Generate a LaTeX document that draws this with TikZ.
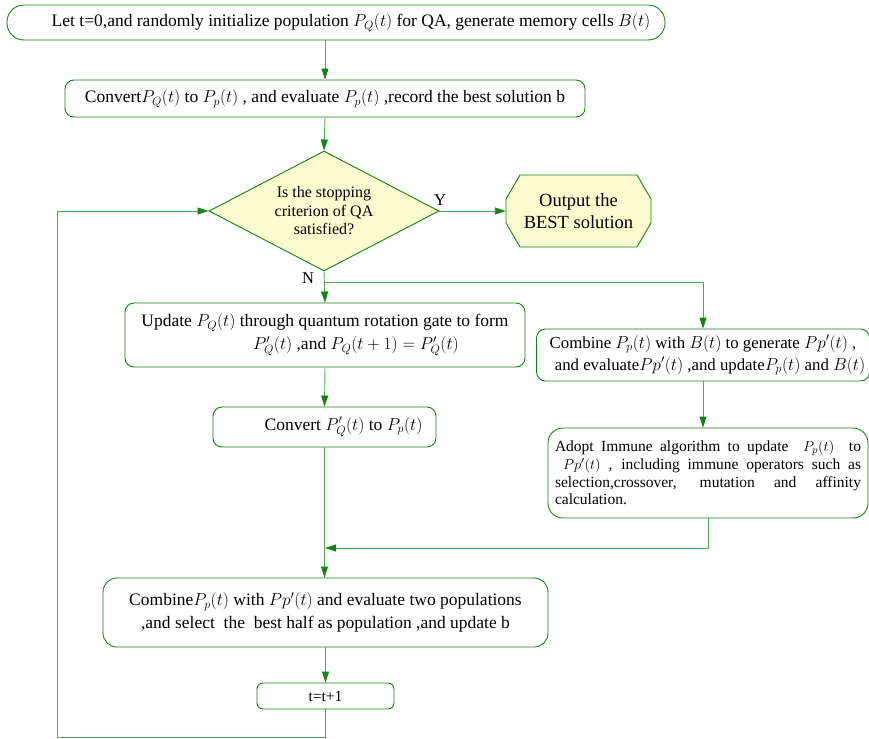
\documentclass[tikz,border=0pt]{standalone}
\usepackage{fontspec}
\setmainfont{Liberation Serif}
\usetikzlibrary{
  arrows.meta,
  shapes.geometric
}

\definecolor{flowgreen}{RGB}{20,130,20}
\definecolor{linegreen}{RGB}{80,170,80}
\definecolor{paleyellow}{RGB}{252,252,208}

\begin{document}
\begin{tikzpicture}[x=1pt,y=-1pt,
	box/.style={draw=flowgreen,line width=0.9pt,rounded corners=9pt,align=center,inner sep=2pt,font=\fontsize{17.5}{23}\selectfont},
	choice/.style={diamond,draw=flowgreen,fill=paleyellow,line width=0.9pt,aspect=1.92,inner sep=0pt,minimum width=230,minimum height=120,align=center,font=\fontsize{16}{18.5}\selectfont},
	octa/.style={draw=flowgreen,fill=paleyellow,line width=0.9pt},
	flow/.style={draw=linegreen,line width=0.9pt,-{Triangle[length=11pt,width=7pt,color=flowgreen]}},
	tag/.style={font=\fontsize{16.5}{18}\selectfont}
]
	\useasboundingbox (0,0) rectangle (869,738);
	% main column
	\node[box,rounded corners=17pt,minimum width=658,minimum height=35] (init) at (336,22.5) {\hspace*{30pt}Let t=0,and randomly initialize population $P_Q(t)$ for QA, generate memory cells $B(t)$};
	\node[box,minimum width=520,minimum height=37] (conv) at (325,98.5) {Convert$P_Q(t)$ to $P_p(t)$ , and evaluate $P_p(t)$ ,record the best solution b};
	\node[choice] (stop) at (324,211) {Is the stopping\\criterion of QA\\satisfied?};
	% octagon drawn first, text on top
	\draw[octa] (506,199) -- (520,175) -- (637,175) -- (651,199) -- (651,223) -- (637,247) -- (520,247) -- (506,223) -- cycle;
	\node[minimum width=145,minimum height=72,align=center,font=\fontsize{18.5}{21.5}\selectfont] (out) at (578.5,211) {Output the\\BEST solution};
	\node[box,minimum width=400,minimum height=64] (update) at (325,335) {Update $P_Q(t)$ through quantum rotation gate to form\\\hspace*{62pt}$P_Q'(t)$ ,and $P_Q(t+1)=P_Q'(t)$};
	\node[box,minimum width=223,minimum height=40] (convq) at (324.5,427) {\hspace*{38pt}Convert $P_Q'(t)$ to $P_p(t)$};
	% immune branch
	\node[box,minimum width=333,minimum height=52,font=\fontsize{16.8}{22}\selectfont] (memory) at (703,355) {Combine $P_p(t)$ with $B(t)$ to generate $Pp'(t)$ ,\\\hspace*{14pt}and evaluate$Pp'(t)$ ,and update$P_p(t)$ and $B(t)$};
	\node[box,rounded corners=15pt,minimum width=320,minimum height=90,text width=306pt,align=justify,font=\fontsize{15.5}{17.8}\selectfont] (immune) at (708,473) {Adopt Immune algorithm to update \ $P_p(t)$ \ to\linebreak \hspace*{8pt}$Pp'(t)$ , including immune operators such as\linebreak selection,crossover, mutation and affinity\linebreak calculation.};
	% merge and loop
	\node[box,rounded corners=14pt,minimum width=445,minimum height=69] (merge) at (325.5,612.5) {Combine$P_p(t)$ with $Pp'(t)$ and evaluate two populations\\,and select \ the \ best half as population ,and update b};
	\node[box,rounded corners=6pt,minimum width=137,minimum height=26,font=\fontsize{15.5}{17}\selectfont] (next) at (325.5,696) {t=t+1};
	\node[tag] (yes) at (440,200) {Y};
	\node[tag] (no) at (308,278) {N};
	\coordinate (split) at (324,282);
	\coordinate (join) at (325,548);
	\coordinate (loopbot) at (325.5,737);
	\coordinate (loopleft) at (57,737);

	\draw[flow] (init.south -| 325,0) -- (conv.north);
	\draw[flow] (conv.south) -- (stop.north);
	\draw[flow] (stop.east) -- (out.west);
	\draw[flow] (stop.south) -- (update.north);
	\draw[flow] (split) -| (memory.north);
	\draw[flow] (update.south) -- (convq.north);
	\draw[flow] (memory.south) -- (immune.north -| memory.south);
	\draw[flow] (immune.south) |- (join);
	\draw[flow] (convq.south) -- (merge.north -| convq.south);
	\draw[flow] (merge.south) -- (next.north);
	\draw[flow] (next.south) -- (loopbot) -- (loopleft) |- (stop.west);
\end{tikzpicture}
\end{document}
